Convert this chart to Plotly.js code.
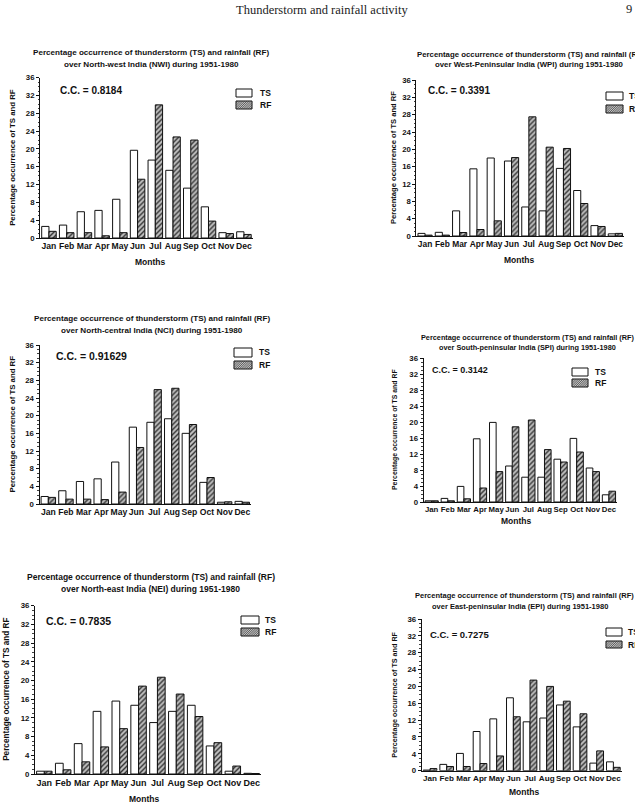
<!DOCTYPE html>
<html>
<head>
<meta charset="utf-8">
<script src="https://cdn.plot.ly/plotly-3.0.1.min.js"></script>
<style>html,body{margin:0;padding:0;background:#fff;}#chart{width:635px;height:809px;}</style>
</head>
<body>
<div id="chart"></div>
<script>
// ---------------- DATA ----------------
const months = ['Jan','Feb','Mar','Apr','May','Jun','Jul','Aug','Sep','Oct','Nov','Dec'];
const seriesNames = ['TS','RF'];
const yTicks = [0,4,8,12,16,20,24,28,32,36];

const tsNWI = [2.6, 2.9, 5.9, 6.2, 8.7, 19.7, 17.5, 15.2, 11.2, 7.0, 1.2, 1.4];
const rfNWI = [1.5, 1.2, 1.2, 0.5, 1.2, 13.2, 29.9, 22.7, 22.0, 3.8, 1.0, 0.8];

const tsWPI = [0.6, 0.85, 5.8, 15.5, 18.0, 17.3, 6.7, 5.8, 15.6, 10.5, 2.4, 0.5];
const rfWPI = [0.2, 0.2, 0.8, 1.5, 3.5, 18.1, 27.5, 20.5, 20.2, 7.5, 2.2, 0.6];

const tsNCI = [1.7, 3.0, 5.1, 5.7, 9.5, 17.4, 18.5, 19.3, 16.0, 4.9, 0.4, 0.6];
const rfNCI = [1.5, 1.1, 1.1, 1.0, 2.7, 12.8, 25.9, 26.2, 18.0, 6.0, 0.5, 0.4];

const tsSPI = [0.3, 0.9, 3.9, 15.8, 19.9, 9.0, 6.2, 6.2, 10.7, 15.9, 8.5, 1.8];
const rfSPI = [0.3, 0.3, 0.8, 3.5, 7.6, 18.8, 20.5, 13.1, 10.0, 12.5, 7.6, 2.7];

const tsNEI = [0.6, 2.3, 6.5, 13.4, 15.6, 14.7, 11.0, 13.4, 14.7, 6.0, 0.6, 0.15];
const rfNEI = [0.6, 0.9, 2.6, 5.8, 9.7, 18.8, 20.7, 17.1, 12.3, 6.7, 1.7, 0.1];

const tsEPI = [0.15, 1.5, 4.1, 9.3, 12.3, 17.3, 11.6, 12.5, 15.6, 10.4, 1.8, 2.1];
const rfEPI = [0.5, 1.0, 1.0, 1.7, 3.5, 12.8, 21.5, 20.0, 16.5, 13.5, 4.7, 0.8];

const regionNames = ['North-west India (NWI)','West-Peninsular India (WPI)','North-central India (NCI)',
                     'South-peninsular India (SPI)','North-east India (NEI)','East-peninsular India (EPI)'];
const ccValues = ['0.8184','0.3391','0.91629','0.3142','0.7835','0.7275'];
const tsSeries = [tsNWI, tsWPI, tsNCI, tsSPI, tsNEI, tsEPI];
const rfSeries = [rfNWI, rfWPI, rfNCI, rfSPI, rfNEI, rfEPI];

// ---------------- LAYOUT (pixel geometry) ----------------
const W = 635, H = 809;
const px = x => x / W;
const py = y => 1 - y / H;
const FONT = 'Liberation Sans, Arial, sans-serif';

const panels = [
  {x0:40.1, x1:252.8, yb:238,   yt:77.7, t1:[151,53], t2:[151,64.5], cc:[58,90],  ccs:10,  ytx:13,  lg:[236,252,89,97,101,109,258], mo:[150,262], tfs:8.1, yfs:7.8, xfs:8.6},
  {x0:416.4,x1:624,   yb:236,   yt:80,   t1:[531,54], t2:[529.5,64.5], cc:[425.7,90.7], ccs:10, ytx:393, lg:[606,623,92,100,105,113,627], mo:[519,260], tfs:7.8, yfs:7.6, xfs:8.4},
  {x0:39.5, x1:251.1, yb:504,   yt:345,  t1:[151.7,318.5], t2:[151.7,330], cc:[54,356], ccs:10.5, ytx:12, lg:[234,252,348,357,361,369,257], mo:null, tfs:8.1, yfs:7.8, xfs:8.6},
  {x0:423.6,x1:617,   yb:502,   yt:358,  t1:[527.5,337], t2:[527.5,347], cc:[430,370], ccs:9, ytx:395, lg:[572,588,368,376,379,387,593], mo:[516,521], tfs:7.3, yfs:6.9, xfs:7.8},
  {x0:34.9, x1:261.1, yb:774,   yt:605.7,t1:[150.5,576.5], t2:[150.5,588.5], cc:[44,621], ccs:10.5, ytx:7, lg:[241,259,616,624,628,636,263], mo:[144.3,798.7], tfs:8.5, yfs:8.2, xfs:9},
  {x0:421.7,x1:621.7, yb:770.7, yt:619,  t1:[524,595.5], t2:[520,606.5], cc:[427.7,634], ccs:9.5, ytx:395, lg:[606,622,628,636,641,648,626], mo:[524.3,792], tfs:7.5, yfs:7.2, xfs:8.1}
];

const data = [];
const layout = {
  width: W, height: H,
  margin: {l:0, r:0, t:0, b:0},
  paper_bgcolor: '#fff', plot_bgcolor: 'rgba(0,0,0,0)',
  showlegend: false,
  barmode: 'group', bargap: 0.18, bargroupgap: 0,
  font: {family: FONT, color: '#111'},
  annotations: [], shapes: []
};

function ann(x, y, text, opts) {
  layout.annotations.push(Object.assign({
    xref:'paper', yref:'paper', x: px(x), y: py(y), text: text, showarrow:false,
    xanchor:'center', yanchor:'middle',
    font:{family:FONT, size:8, color:'#111', weight:'bold'}
  }, opts || {}));
}

panels.forEach((p, i) => {
  const n = i + 1;
  const xa = n === 1 ? 'x' : 'x' + n, ya = n === 1 ? 'y' : 'y' + n;
  const xk = n === 1 ? 'xaxis' : 'xaxis' + n, yk = n === 1 ? 'yaxis' : 'yaxis' + n;
  data.push({
    type:'bar', name: seriesNames[0], x: months, y: tsSeries[i], xaxis: xa, yaxis: ya,
    marker:{color:'#ffffff', line:{color:'#111', width:1}}, hoverinfo:'x+y'
  });
  data.push({
    type:'bar', name: seriesNames[1], x: months, y: rfSeries[i], xaxis: xa, yaxis: ya,
    marker:{color:'#b5b5b5', line:{color:'#111', width:1},
            pattern:{shape:'/', fgcolor:'#333', bgcolor:'#c0c0c0', size:3.5, solidity:0.4}},
    hoverinfo:'x+y'
  });
  layout[xk] = {
    domain:[px(p.x0), px(p.x1)], anchor: ya, type:'category',
    range:[-0.5, 11.5], showline:true, linecolor:'#111', linewidth:1,
    ticks:'', showgrid:false, zeroline:false, fixedrange:true, tickangle:0,
    tickfont:{family:FONT, size:p.xfs, color:'#111', weight:'bold'}
  };
  layout[yk] = {
    domain:[py(p.yb), py(p.yt)], anchor: xa, range:[0,36],
    tickvals: yTicks, ticks:'outside', ticklen:3, tickwidth:1, tickcolor:'#111',
    minor:{dtick:1, ticks:'outside', ticklen:1.5, tickcolor:'#111', tickwidth:0.8},
    showline:true, linecolor:'#111', linewidth:1, showgrid:false, zeroline:false, fixedrange:true,
    tickfont:{family:FONT, size:7.8, color:'#111', weight:'bold'}
  };
  // titles
  ann(p.t1[0], p.t1[1], 'Percentage occurrence of thunderstorm (TS) and rainfall (RF)', {font:{family:FONT, size:p.tfs, color:'#111', weight:'bold'}});
  ann(p.t2[0], p.t2[1], 'over ' + regionNames[i] + ' during 1951-1980', {font:{family:FONT, size:p.tfs, color:'#111', weight:'bold'}});
  // C.C.
  ann(p.cc[0], p.cc[1], 'C.C. = ' + ccValues[i], {xanchor:'left', font:{family:FONT, size:p.ccs, color:'#111', weight:'bold'}});
  // y title
  ann(p.ytx, (p.yb + p.yt) / 2, 'Percentage occurrence of TS and RF', {textangle:-90, font:{family:FONT, size:p.yfs, color:'#111', weight:'bold'}});
  // x title
  if (p.mo) ann(p.mo[0], p.mo[1], 'Months', {font:{family:FONT, size:8.5, color:'#111', weight:'bold'}});
  // legend keys
  const [lx0, lx1, a0, a1, b0, b1, tx] = p.lg;
  layout.shapes.push({type:'rect', xref:'paper', yref:'paper', x0:px(lx0), x1:px(lx1), y0:py(a1), y1:py(a0),
    fillcolor:'#fff', line:{color:'#111', width:1}});
  layout.shapes.push({type:'rect', xref:'paper', yref:'paper', x0:px(lx0), x1:px(lx1), y0:py(b1), y1:py(b0),
    fillcolor:'#c0c0c0', line:{color:'#111', width:1}});
  // hatch lines for RF key
  const kw = lx1 - lx0, kh = b1 - b0;
  let path = '';
  for (let t = -kh; t < kw; t += 2.2) {
    const u0 = Math.max(0, -t), u1 = Math.min(kh, kw - t);
    if (u1 <= u0) continue;
    const xs = lx0 + t + u0, ys = b1 - u0, xe = lx0 + t + u1, ye = b1 - u1;
    path += `M${px(xs)},${py(ys)}L${px(xe)},${py(ye)}`;
  }
  layout.shapes.push({type:'path', xref:'paper', yref:'paper', path: path, line:{color:'#333', width:0.7}});
  ann(tx, (a0 + a1) / 2, seriesNames[0], {xanchor:'left', font:{family:FONT, size:8.5, color:'#111', weight:'bold'}});
  ann(tx, (b0 + b1) / 2, seriesNames[1], {xanchor:'left', font:{family:FONT, size:8.5, color:'#111', weight:'bold'}});
});

// page header
ann(322, 10, 'Thunderstorm and rainfall activity', {font:{family:'Liberation Serif, Times New Roman, serif', size:12.5, color:'#222'}});
ann(629, 9, '9', {font:{family:'Liberation Serif, Times New Roman, serif', size:12.5, color:'#222'}});

Plotly.newPlot('chart', data, layout, {displayModeBar:false, staticPlot:true});
</script>
</body>
</html>
